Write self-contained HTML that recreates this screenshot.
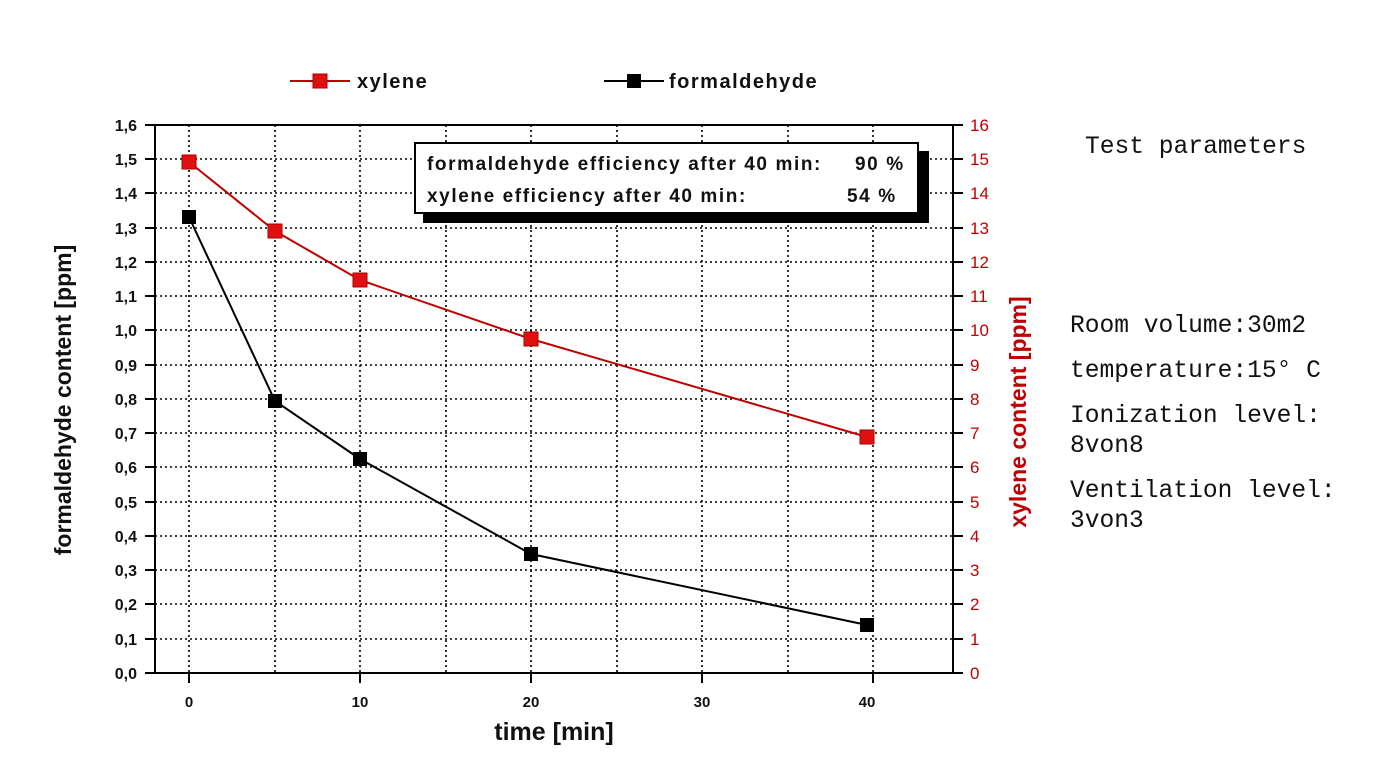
<!DOCTYPE html>
<html><head><meta charset="utf-8"><style>
html,body{margin:0;padding:0;background:#fff;width:1383px;height:775px;overflow:hidden}
svg{display:block}
.t{font-family:"Liberation Sans",Arial,sans-serif;font-weight:bold}
.m{font-family:"Liberation Mono","Noto Sans CJK SC",monospace;font-size:24.6px;fill:#111}
</style></head><body>
<svg width="1383" height="775" viewBox="0 0 1383 775">
<g stroke="#000" stroke-width="1.6" stroke-dasharray="2,3">
<line x1="189" y1="125" x2="189" y2="673"/><line x1="275" y1="125" x2="275" y2="673"/>
<line x1="360" y1="125" x2="360" y2="673"/><line x1="446" y1="125" x2="446" y2="673"/>
<line x1="531" y1="125" x2="531" y2="673"/><line x1="617" y1="125" x2="617" y2="673"/>
<line x1="702" y1="125" x2="702" y2="673"/><line x1="788" y1="125" x2="788" y2="673"/>
<line x1="873" y1="125" x2="873" y2="673"/>
<line x1="155" y1="159" x2="953" y2="159"/><line x1="155" y1="193" x2="953" y2="193"/>
<line x1="155" y1="228" x2="953" y2="228"/><line x1="155" y1="262" x2="953" y2="262"/>
<line x1="155" y1="296" x2="953" y2="296"/><line x1="155" y1="330" x2="953" y2="330"/>
<line x1="155" y1="365" x2="953" y2="365"/><line x1="155" y1="399" x2="953" y2="399"/>
<line x1="155" y1="433" x2="953" y2="433"/><line x1="155" y1="467" x2="953" y2="467"/>
<line x1="155" y1="502" x2="953" y2="502"/><line x1="155" y1="536" x2="953" y2="536"/>
<line x1="155" y1="570" x2="953" y2="570"/><line x1="155" y1="604" x2="953" y2="604"/>
<line x1="155" y1="639" x2="953" y2="639"/>
</g>
<g stroke="#000" stroke-width="2" fill="none">
<line x1="155" y1="125" x2="953" y2="125"/><line x1="155" y1="125" x2="155" y2="673"/>
<line x1="953" y1="125" x2="953" y2="673"/><line x1="145" y1="673" x2="953" y2="673"/>
</g>
<g class="t" font-size="16" text-anchor="end" fill="#111">
<text x="137" y="131">1,6</text><text x="137" y="165">1,5</text><text x="137" y="199">1,4</text>
<text x="137" y="234">1,3</text><text x="137" y="268">1,2</text><text x="137" y="302">1,1</text>
<text x="137" y="336">1,0</text><text x="137" y="371">0,9</text><text x="137" y="405">0,8</text>
<text x="137" y="439">0,7</text><text x="137" y="473">0,6</text><text x="137" y="508">0,5</text>
<text x="137" y="542">0,4</text><text x="137" y="576">0,3</text><text x="137" y="610">0,2</text>
<text x="137" y="645">0,1</text><text x="137" y="679">0,0</text>
</g>
<g font-family="Liberation Sans,sans-serif" font-size="17" fill="#c00000">
<text x="970" y="131">16</text><text x="970" y="165">15</text><text x="970" y="199">14</text>
<text x="970" y="234">13</text><text x="970" y="268">12</text><text x="970" y="302">11</text>
<text x="970" y="336">10</text><text x="970" y="371">9</text><text x="970" y="405">8</text>
<text x="970" y="439">7</text><text x="970" y="473">6</text><text x="970" y="508">5</text>
<text x="970" y="542">4</text><text x="970" y="576">3</text><text x="970" y="610">2</text>
<text x="970" y="645">1</text><text x="970" y="679">0</text>
</g>
<g stroke="#000" stroke-width="2">
<line x1="145" y1="159" x2="155" y2="159"/><line x1="145" y1="228" x2="155" y2="228"/>
<line x1="145" y1="296" x2="155" y2="296"/><line x1="145" y1="365" x2="155" y2="365"/>
<line x1="145" y1="433" x2="155" y2="433"/><line x1="145" y1="502" x2="155" y2="502"/>
<line x1="145" y1="570" x2="155" y2="570"/><line x1="145" y1="639" x2="155" y2="639"/>
<line x1="145" y1="125" x2="155" y2="125"/><line x1="145" y1="193" x2="155" y2="193"/>
<line x1="145" y1="262" x2="155" y2="262"/><line x1="145" y1="330" x2="155" y2="330"/>
<line x1="145" y1="399" x2="155" y2="399"/><line x1="145" y1="467" x2="155" y2="467"/>
<line x1="145" y1="536" x2="155" y2="536"/><line x1="145" y1="604" x2="155" y2="604"/>
<line x1="953" y1="125" x2="963" y2="125"/><line x1="953" y1="159" x2="963" y2="159"/>
<line x1="953" y1="193" x2="963" y2="193"/><line x1="953" y1="228" x2="963" y2="228"/>
<line x1="953" y1="262" x2="963" y2="262"/><line x1="953" y1="296" x2="963" y2="296"/>
<line x1="953" y1="330" x2="963" y2="330"/><line x1="953" y1="365" x2="963" y2="365"/>
<line x1="953" y1="399" x2="963" y2="399"/><line x1="953" y1="433" x2="963" y2="433"/>
<line x1="953" y1="467" x2="963" y2="467"/><line x1="953" y1="502" x2="963" y2="502"/>
<line x1="953" y1="536" x2="963" y2="536"/><line x1="953" y1="570" x2="963" y2="570"/>
<line x1="953" y1="604" x2="963" y2="604"/><line x1="953" y1="639" x2="963" y2="639"/>
<line x1="953" y1="673" x2="963" y2="673"/>
<line x1="189" y1="673" x2="189" y2="683"/><line x1="360" y1="673" x2="360" y2="683"/>
<line x1="531" y1="673" x2="531" y2="683"/><line x1="702" y1="673" x2="702" y2="683"/>
<line x1="873" y1="673" x2="873" y2="683"/>
</g>
<g class="t" font-size="15" text-anchor="middle" fill="#111">
<text x="189" y="707">0</text><text x="360" y="707">10</text><text x="531" y="707">20</text>
<text x="702" y="707">30</text><text x="867" y="707">40</text>
</g>
<text class="t" x="554" y="740" font-size="25" text-anchor="middle" fill="#111">time [min]</text>
<text class="t" transform="translate(71,400) rotate(-90)" font-size="23" text-anchor="middle" fill="#111">formaldehyde content [ppm]</text>
<text class="t" transform="translate(1026,412) rotate(-90)" font-size="23" text-anchor="middle" fill="#c00000">xylene content [ppm]</text>
<polyline points="189,162 275,231 360,280 531,339 867,437" fill="none" stroke="#c00000" stroke-width="2"/>
<polyline points="189,217 275,401 360,459 531,554 867,625" fill="none" stroke="#000" stroke-width="2"/>
<g fill="#e01010" stroke="#a00" stroke-width="1">
<rect x="182" y="155" width="14" height="14"/><rect x="268" y="224" width="14" height="14"/>
<rect x="353" y="273" width="14" height="14"/><rect x="524" y="332" width="14" height="14"/>
<rect x="860" y="430" width="14" height="14"/>
</g>
<g fill="#000">
<rect x="182" y="210" width="14" height="14"/><rect x="268" y="394" width="14" height="14"/>
<rect x="353" y="452" width="14" height="14"/><rect x="524" y="547" width="14" height="14"/>
<rect x="860" y="618" width="14" height="14"/>
</g>
<rect x="423" y="151" width="506" height="72" fill="#000"/>
<rect x="415" y="143" width="503" height="70" fill="#fff" stroke="#000" stroke-width="2"/>
<g class="t" font-size="19" fill="#111" letter-spacing="1.6">
<text x="427" y="170">formaldehyde efficiency after 40 min:</text><text x="855" y="170">90 %</text>
<text x="427" y="202">xylene efficiency after  40 min:</text><text x="847" y="202">54 %</text>
</g>
<line x1="290" y1="81" x2="350" y2="81" stroke="#c00000" stroke-width="2"/>
<rect x="313" y="74" width="14" height="14" fill="#e01010" stroke="#a00"/>
<text class="t" x="357" y="88" font-size="20" fill="#111" letter-spacing="1.5">xylene</text>
<line x1="604" y1="81" x2="664" y2="81" stroke="#000" stroke-width="2"/>
<rect x="627" y="74" width="14" height="14" fill="#000"/>
<text class="t" x="669" y="88" font-size="20" fill="#111" letter-spacing="1.5">formaldehyde</text>
<text class="m" x="1085" y="153">Test parameters</text>
<text class="m" x="1070" y="332">Room volume:30m2</text>
<text class="m" x="1070" y="377">temperature:15° C</text>
<text class="m" x="1070" y="422">Ionization level:</text>
<text class="m" x="1070" y="452">8von8</text>
<text class="m" x="1070" y="497">Ventilation level:</text>
<text class="m" x="1070" y="527">3von3</text>
</svg>
</body></html>
